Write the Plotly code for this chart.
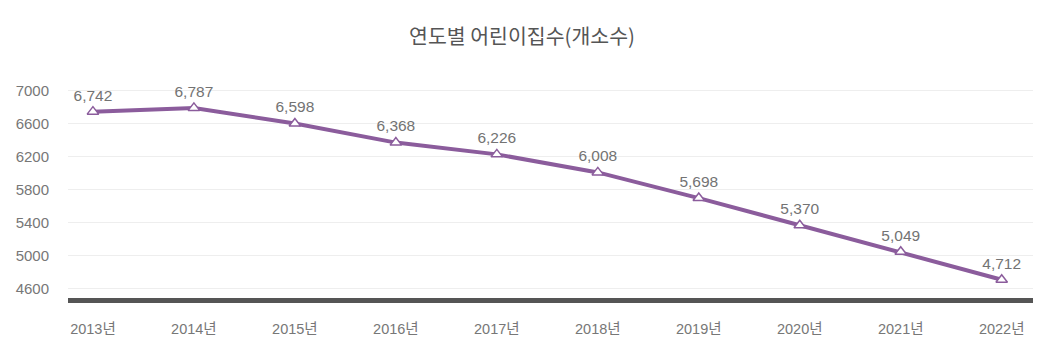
import plotly.graph_objects as go

years = ["2013년", "2014년", "2015년", "2016년", "2017년", "2018년", "2019년", "2020년", "2021년", "2022년"]
counts = [6742, 6787, 6598, 6368, 6226, 6008, 5698, 5370, 5049, 4712]
yticks = [4600, 5000, 5400, 5800, 6200, 6600, 7000]

font_family = "Liberation Sans, Arial, Noto Sans CJK KR, sans-serif"
xs = list(range(len(years)))

# page body has an 8px default margin; size the figure to fill the window
W, H = 1055, 350

fig = go.Figure()
fig.add_trace(go.Scatter(
    x=xs, y=counts,
    mode="lines+markers+text",
    line=dict(color="#8b5c9c", width=4),
    marker=dict(symbol="triangle-up", size=10, color="white",
                line=dict(color="#8b5c9c", width=1.5)),
    text=[f"{v:,}" for v in counts],
    textposition="top center",
    textfont=dict(family=font_family, size=15.5, color="#737373"),
    cliponaxis=False,
    hoverinfo="skip",
))

fig.update_layout(
    width=W, height=H,
    margin=dict(l=60, r=30, t=73.7, b=60),
    paper_bgcolor="white", plot_bgcolor="white",
    showlegend=False,
    title=dict(text="연도별 어린이집수(개소수)", x=(522 - 8) / W, xanchor="center",
               y=1 - (37 - 8) / H, yanchor="middle",
               font=dict(family="Noto Sans CJK KR, sans-serif", size=20.5, color="#555555")),
    xaxis=dict(
        range=[-0.247, 9.31], automargin=False,
        tickmode="array", tickvals=xs, ticktext=years,
        showgrid=False, zeroline=False,
        showline=True, linecolor="#555555", linewidth=5,
        tickfont=dict(family=font_family, size=14.5, color="#777777"),
        ticklabelstandoff=14,
    ),
    yaxis=dict(
        range=[4491, 7100], automargin=False,
        tickmode="array", tickvals=yticks, ticktext=[str(t) for t in yticks],
        showgrid=True, gridcolor="#eeeeee", gridwidth=1,
        zeroline=False, showline=False,
        tickfont=dict(family=font_family, size=15, color="#777777"),
        ticklabelstandoff=18,
    ),
)

fig.write_html("out.html")
